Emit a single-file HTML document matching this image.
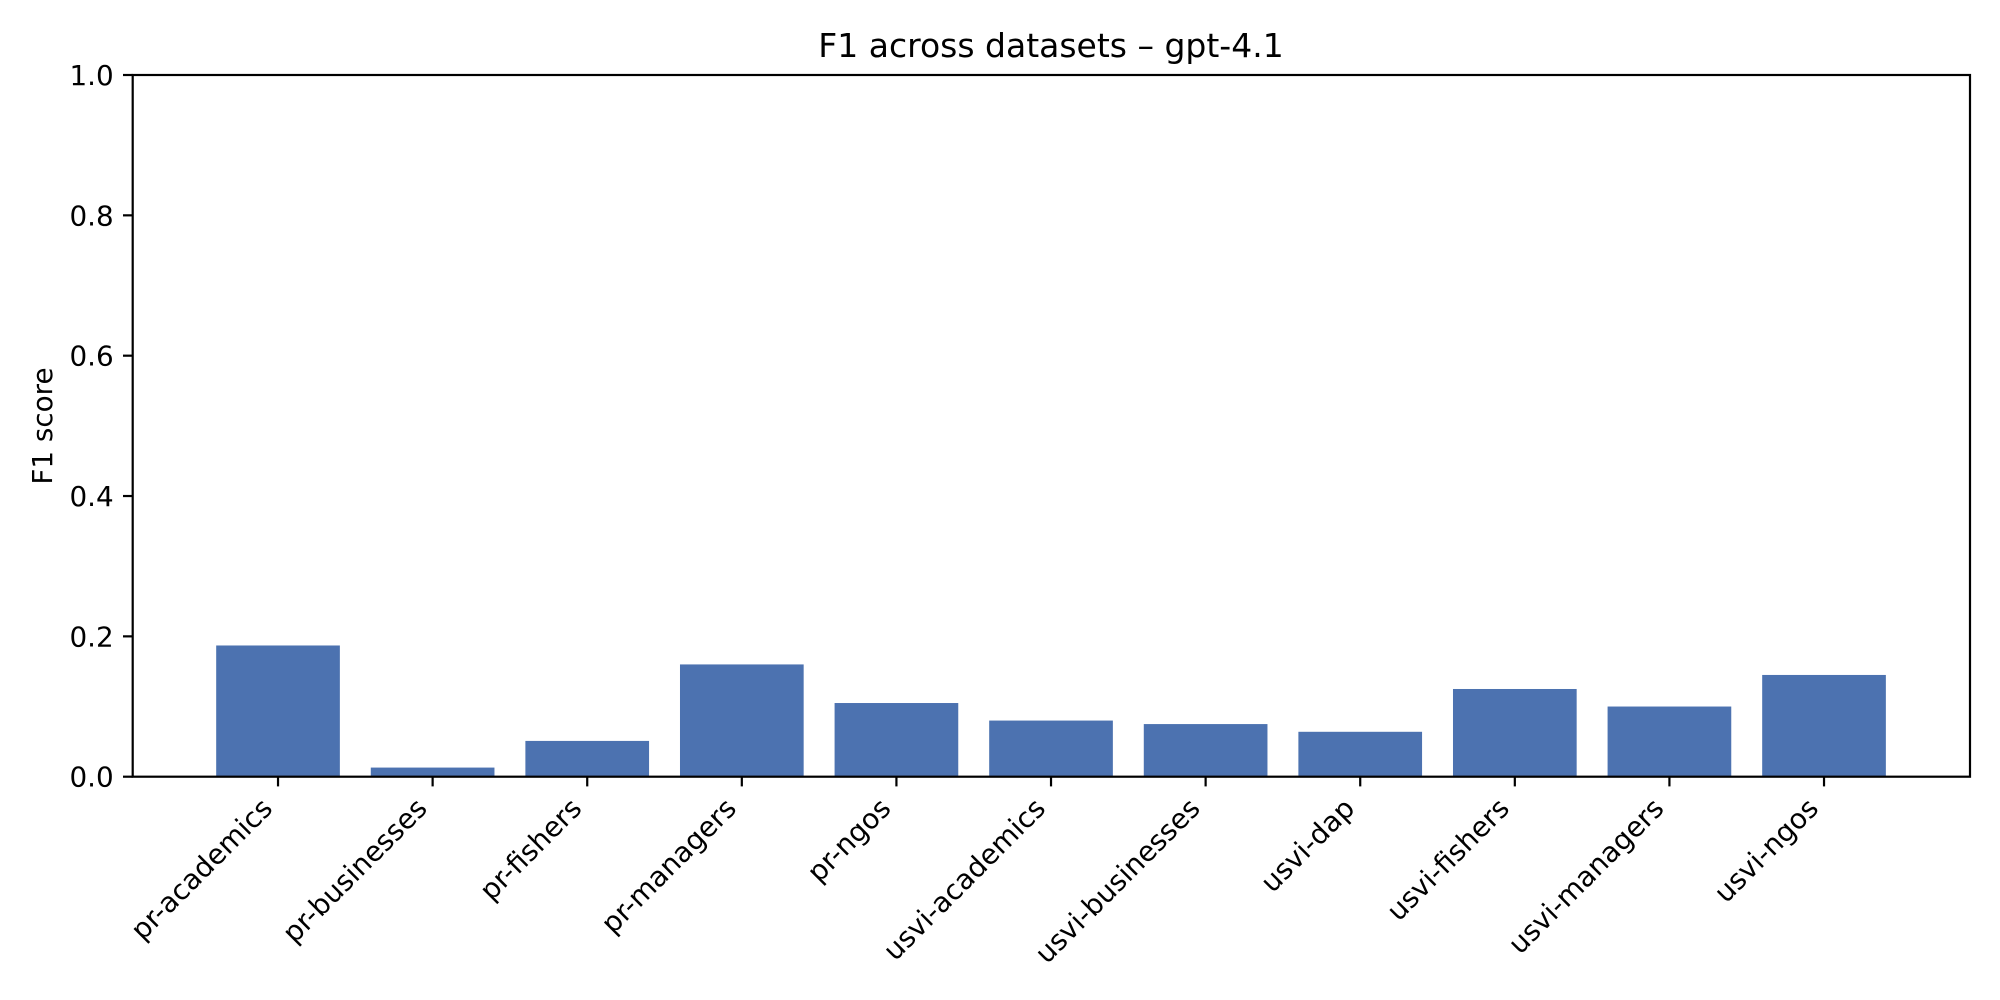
<!DOCTYPE html>
<html><head><meta charset="utf-8"><style>
html,body{margin:0;padding:0;background:#fff;}
svg{display:block;font-family:"DejaVu Sans","Liberation Sans",sans-serif;}
</style></head><body>
<svg id="chart" width="2000" height="1000" viewBox="0 0 2000 1000" xmlns="http://www.w3.org/2000/svg">
<rect width="2000" height="1000" fill="#fff"/>
<text x="1051" y="57" font-size="33" text-anchor="middle">F1 across datasets – gpt-4.1</text>
<text transform="translate(52,426) rotate(-90)" font-size="27.8" text-anchor="middle">F1 score</text>
<g id="plot"></g>
</svg>
<script>
const categories = ["pr-academics","pr-businesses","pr-fishers","pr-managers","pr-ngos","usvi-academics","usvi-businesses","usvi-dap","usvi-fishers","usvi-managers","usvi-ngos"];
const f1Values = [0.187,0.013,0.051,0.160,0.105,0.080,0.075,0.064,0.125,0.100,0.145];
const yTicks = [0.0,0.2,0.4,0.6,0.8,1.0];
const yTickLabels = ["0.0","0.2","0.4","0.6","0.8","1.0"];

const NS = "http://www.w3.org/2000/svg";
const L = 132.7, R = 1970, T = 75, B = 776.7;
const unit = 154.6, xMin = -0.94;
function xs(v){ return L + (v - xMin) * unit; }
function ys(v){ return B - v * (B - T); }
const g = document.getElementById('plot');
function mk(tag, attrs){ const e = document.createElementNS(NS, tag); for (const k in attrs) e.setAttribute(k, attrs[k]); g.appendChild(e); return e; }

categories.forEach((c, i) => {
  const bar = mk('rect', {x: xs(i - 0.4), y: ys(f1Values[i]), width: 0.8 * unit, height: ys(0) - ys(f1Values[i]), fill: '#4c72b0'});
  
  
  const tk = mk('line', {x1: xs(i), x2: xs(i), y1: B, y2: B + 9.7, stroke: '#000', 'stroke-width': 2.2});
  
  
  const px = xs(i) - 4, py = 810;
  const lb = mk('text', {transform: `translate(${px},${py}) rotate(-45)`, 'font-size': 27.8, 'text-anchor': 'end'});
  lb.textContent = c;
  
  
});

yTicks.forEach((v, i) => {
  const tk = mk('line', {x1: L - 9.7, x2: L, y1: ys(v), y2: ys(v), stroke: '#000', 'stroke-width': 2.2});
  
  
  const lb = mk('text', {x: L - 19, y: ys(v) + 10, 'font-size': 27.8, 'text-anchor': 'end'});
  lb.textContent = yTickLabels[i];
  
  
});

const frame = mk('rect', {x: L, y: T, width: R - L, height: B - T, fill: 'none', stroke: '#000', 'stroke-width': 2.2});


</script>
</body></html>
